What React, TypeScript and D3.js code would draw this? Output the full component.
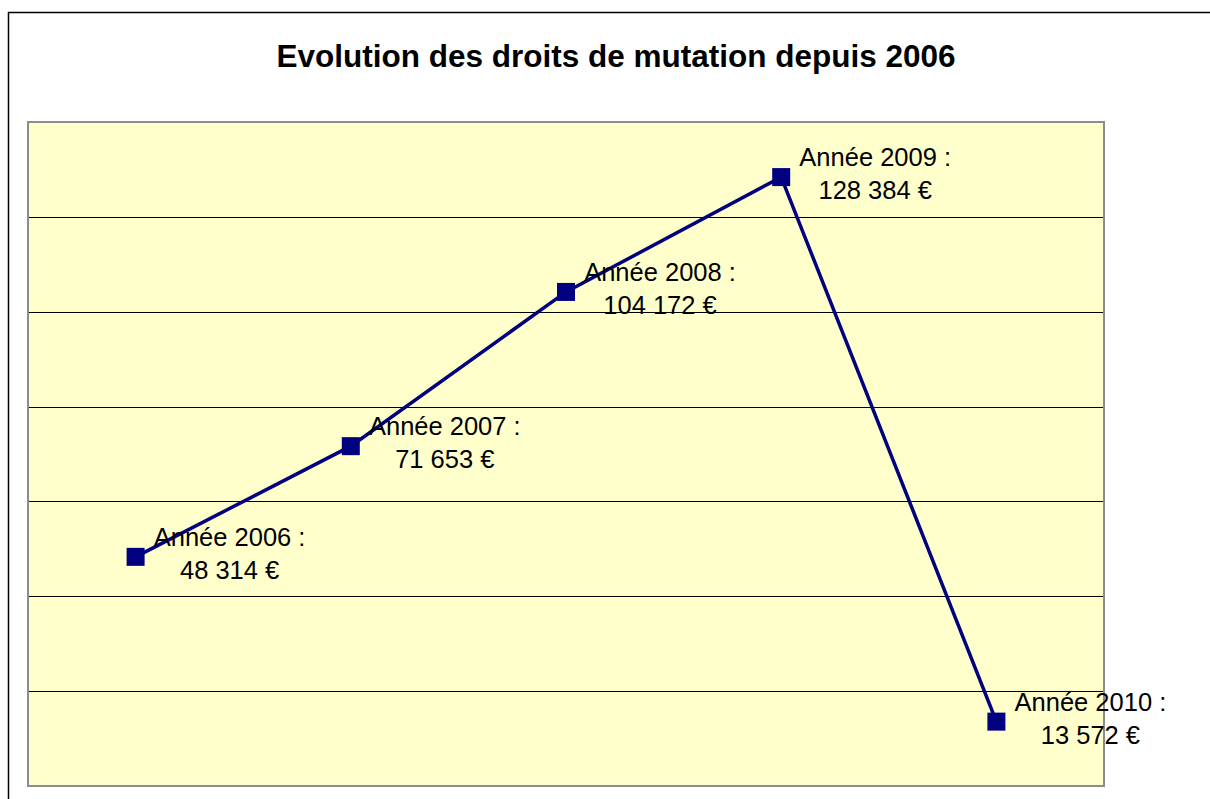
import { useEffect, useRef } from "react"
import * as d3 from "d3"

const years = ["2006", "2007", "2008", "2009", "2010"]
const values = [48314, 71653, 104172, 128384, 13572]
const valueLabels = ["48 314 €", "71 653 €", "104 172 €", "128 384 €", "13 572 €"]
const gridTicks = [0, 20000, 40000, 60000, 80000, 100000, 120000, 140000]

export default function App() {
  const svgRef = useRef<SVGSVGElement>(null)

  useEffect(() => {
    if (!svgRef.current) return
    d3.select(svgRef.current).selectAll("*").remove()

    const width = 1210
    const height = 799
    const plot = { left: 28, top: 122, right: 1104, bottom: 786 }

    const svg = d3.select(svgRef.current).attr("width", width).attr("height", height)

    // outer chart frame (runs off the page on right/bottom)
    svg
      .append("rect")
      .attr("x", 8.5)
      .attr("y", 12.5)
      .attr("width", 1400)
      .attr("height", 1000)
      .attr("fill", "white")
      .attr("stroke", "black")
      .attr("stroke-width", 1.5)

    // title
    svg
      .append("text")
      .attr("x", 616)
      .attr("y", 67)
      .attr("text-anchor", "middle")
      .style("font-family", "'Liberation Sans', Arial, sans-serif")
      .style("font-weight", "bold")
      .style("font-size", "31.5px")
      .text("Evolution des droits de mutation depuis 2006")

    const x = d3.scaleBand().domain(years).range([plot.left, plot.right])
    const y = d3
      .scaleLinear()
      .domain([0, 140000])
      .range([plot.bottom, plot.top])

    // plot area
    svg
      .append("rect")
      .attr("x", plot.left)
      .attr("y", plot.top)
      .attr("width", plot.right - plot.left)
      .attr("height", plot.bottom - plot.top)
      .attr("fill", "#FFFFCC")

    // gridlines
    svg
      .append("g")
      .selectAll("line")
      .data(gridTicks.slice(1, -1))
      .enter()
      .append("line")
      .attr("x1", plot.left)
      .attr("x2", plot.right)
      .attr("y1", (d) => Math.round(y(d)) + 0.5)
      .attr("y2", (d) => Math.round(y(d)) + 0.5)
      .attr("stroke", "#000")
      .attr("stroke-width", 1)

    svg
      .append("rect")
      .attr("x", plot.left)
      .attr("y", plot.top)
      .attr("width", plot.right - plot.left)
      .attr("height", plot.bottom - plot.top)
      .attr("fill", "none")
      .attr("stroke", "#8c8c8c")
      .attr("stroke-width", 2)

    const cx = (i: number) => (x(years[i]) || 0) + x.bandwidth() / 2

    // line
    const line = d3
      .line<number>()
      .x((_, i) => cx(i))
      .y((d) => y(d))

    svg
      .append("path")
      .datum(values)
      .attr("d", line)
      .attr("fill", "none")
      .attr("stroke", "#000080")
      .attr("stroke-width", 3.5)

    // markers
    const size = 18
    svg
      .append("g")
      .selectAll("rect")
      .data(values)
      .enter()
      .append("rect")
      .attr("x", (_, i) => cx(i) - size / 2)
      .attr("y", (d) => y(d) - size / 2)
      .attr("width", size)
      .attr("height", size)
      .attr("fill", "#000080")

    // data labels
    const labels = svg
      .append("g")
      .selectAll("text")
      .data(values)
      .enter()
      .append("text")
      .attr("text-anchor", "middle")
      .style("font-family", "'Liberation Sans', Arial, sans-serif")
      .style("font-size", "25.5px")
      .style("fill", "#000")

    labels
      .append("tspan")
      .attr("x", (_, i) => cx(i) + 94)
      .attr("y", (d) => y(d) - 11)
      .text((_, i) => `Année ${years[i]} :`)

    labels
      .append("tspan")
      .attr("x", (_, i) => cx(i) + 94)
      .attr("y", (d) => y(d) + 22)
      .text((_, i) => valueLabels[i])
  }, [])

  return (
    <svg
      ref={svgRef}
      style={{ position: "absolute", left: 0, top: 0, display: "block" }}
    ></svg>
  )
}
